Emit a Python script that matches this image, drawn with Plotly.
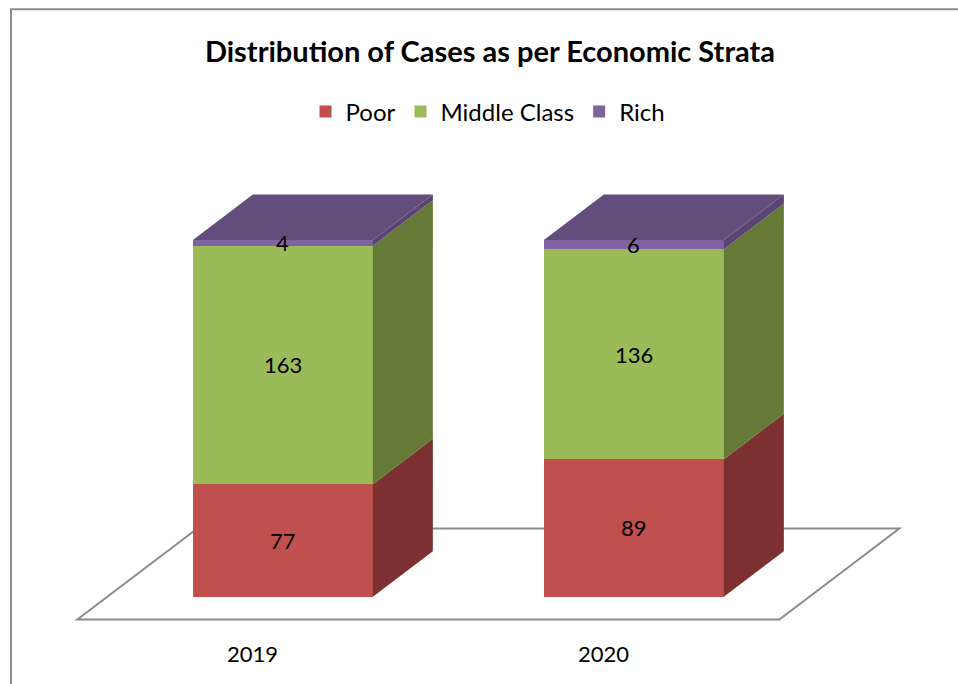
import plotly.graph_objects as go

# ---- data -------------------------------------------------------------
years = ["2019", "2020"]
poor = [77, 89]
middle = [163, 136]
rich = [4, 6]

series_names = ["Poor", "Middle Class", "Rich"]
series_values = [poor, middle, rich]
front_colors = ["#C0504D", "#9BBB59", "#8064A2"]
side_colors = ["#7C3130", "#647A36", "#5A4474"]
top_color = "#634D7C"

# ---- geometry (axis units) -------------------------------------------
W, H = 958, 684
px_per_x = 351.0          # pixels per category step
px_per_y = 3.567          # pixels per percent
x0_px, y0_px = 282.85, 596.7   # pixel of category 0 / 0 %
x_range = [-x0_px / px_per_x, (W - x0_px) / px_per_x]
y_range = [-(H - y0_px) / px_per_y, y0_px / px_per_y]

bar_w = 180 / px_per_x
dx = 60 / px_per_x        # depth offset, x
dy = 45.5 / px_per_y      # depth offset, y
xs = list(range(len(years)))

# cumulative percentage stacks
totals = [sum(v[i] for v in series_values) for i in xs]
pct = [[v[i] / totals[i] * 100 for i in xs] for v in series_values]
bases = []
run = [0.0] * len(xs)
for p in pct:
    bases.append(run[:])
    run = [run[i] + p[i] for i in xs]

fig = go.Figure()

# front faces
for name, vals, col in zip(series_names, series_values, front_colors):
    fig.add_trace(go.Bar(
        x=xs, y=vals, name=name, width=bar_w,
        marker=dict(color=col, line=dict(width=0)),
        hoverinfo="skip",
    ))

# right side faces of each segment
for k, col in enumerate(side_colors):
    for i in xs:
        xr = i + bar_w / 2
        b, t = bases[k][i], bases[k][i] + pct[k][i]
        fig.add_trace(go.Scatter(
            x=[xr, xr, xr + dx, xr + dx, xr], y=[b, t, t + dy, b + dy, b],
            fill="toself", fillcolor=col, mode="lines", line=dict(width=0),
            showlegend=False, hoverinfo="skip",
        ))

# top faces
for i in xs:
    xl, xr = i - bar_w / 2, i + bar_w / 2
    t = run[i]
    fig.add_trace(go.Scatter(
        x=[xl, xr, xr + dx, xl + dx, xl], y=[t, t, t + dy, t + dy, t],
        fill="toself", fillcolor=top_color, mode="lines", line=dict(width=0),
        showlegend=False, hoverinfo="skip",
    ))

# floor, drawn beneath the bars
fx0, fx1 = -0.5 - dx / 2, len(xs) - 0.5 - dx / 2
fy = -dy / 2
fig.add_shape(
    type="path", layer="below",
    path=(f"M{fx0},{fy} L{fx1},{fy} L{fx1 + 2 * dx},{fy + 2 * dy} "
          f"L{fx0 + 2 * dx},{fy + 2 * dy} Z"),
    xref="x", yref="y", fillcolor="white", line=dict(color="#8C8C8C", width=2),
)

# value labels
label_font = dict(family="Lato, Carlito, sans-serif", size=22, color="black")
for k, vals in enumerate(series_values):
    for i in xs:
        fig.add_annotation(
            x=i, y=bases[k][i] + pct[k][i] / 2, text=str(vals[i]),
            showarrow=False, font=label_font, xref="x", yref="y",
        )

# category labels along the front of the floor
for i, yr in enumerate(years):
    fig.add_annotation(
        x=i - dx / 2, y=-15.8, text=yr, showarrow=False,
        font=label_font, xref="x", yref="y",
    )

# chart frame
fig.add_shape(
    type="rect", xref="paper", yref="paper",
    x0=11 / W, x1=1.02, y0=-0.05, y1=1 - 9.3 / H,
    line=dict(color="#8C8C8C", width=2), fillcolor="rgba(0,0,0,0)",
)

fig.update_layout(
    width=W, height=H,
    margin=dict(l=0, r=0, t=0, b=0),
    barmode="stack", barnorm="percent",
    paper_bgcolor="white", plot_bgcolor="white",
    xaxis=dict(range=x_range, visible=False, fixedrange=True),
    yaxis=dict(range=y_range, visible=False, fixedrange=True),
    title=dict(
        text="<b>Distribution of Cases as per Economic Strata</b>",
        x=490 / W, xanchor="center", y=1 - 52 / H, yanchor="middle",
        font=dict(family="Lato, Carlito, sans-serif", size=29, color="black"),
    ),
    legend=dict(
        orientation="h", x=488 / W, xanchor="center",
        y=1 - 112 / H, yanchor="middle",
        font=dict(family="Lato, Carlito, sans-serif", size=24, color="black"),
        bgcolor="rgba(0,0,0,0)", traceorder="normal",
    ),
    showlegend=True,
)

fig.write_html("out.html")
